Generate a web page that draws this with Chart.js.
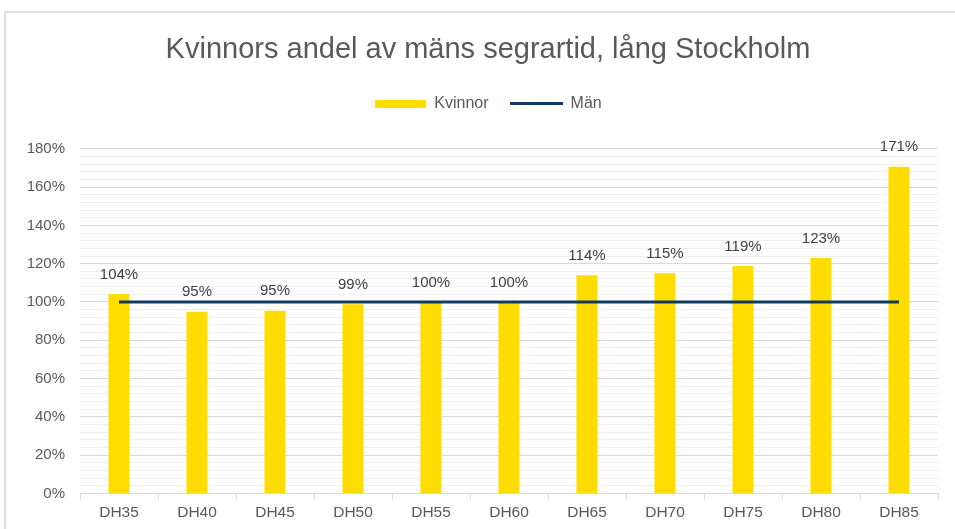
<!DOCTYPE html>
<html>
<head>
<meta charset="utf-8">
<script src="https://cdn.jsdelivr.net/npm/chart.js@4/dist/chart.umd.min.js"></script>
</head>
<body style="margin:0; background:#fff; overflow:hidden">
    <div id="frame" style="position:absolute; left:4px; top:11px; width:960px; height:530px; border:2px solid #dedede; pointer-events:none; z-index:2"></div>
    <div style="position:absolute; left:0; top:0; width:955px; height:529px">
        <canvas id="chart" width="955" height="529"></canvas>
    </div>

<script>
    // chart data
    var categories = ['DH35', 'DH40', 'DH45', 'DH50', 'DH55', 'DH60', 'DH65', 'DH70', 'DH75', 'DH80', 'DH85'];
    var kvinnor = [104.2, 94.9, 95.4, 98.8, 99.6, 99.6, 114.0, 115.0, 118.8, 122.9, 170.6];
    var man = [100, 100, 100, 100, 100, 100, 100, 100, 100, 100, 100];

    var yellow = '#ffdd00';
    var navy = '#0e3a64';
    var textGrey = '#595959';
    var fontFamily = '"Liberation Sans", Arial, sans-serif';

    // legend swatches
    function swatch(w, h, color) {
        var c = document.createElement('canvas');
        c.width = w; c.height = h;
        var cx = c.getContext('2d');
        cx.fillStyle = color;
        cx.fillRect(0, 0, w, h);
        return c;
    }
    var barSwatch = swatch(51, 8, yellow);
    var lineSwatch = swatch(53, 3, navy);

    /*
     * value labels above the bars
     */
    var barLabels = {
        id: 'barLabels',
        afterDatasetsDraw(chart) {
            var meta = chart.getDatasetMeta(0);
            var ctx = chart.ctx;
            ctx.save();
            ctx.font = '15px ' + fontFamily;
            ctx.fillStyle = '#404040';
            ctx.textAlign = 'center';
            ctx.textBaseline = 'bottom';
            meta.data.forEach(function (bar, i) {
                ctx.fillText(Math.round(kvinnor[i]) + '%', bar.x, bar.y - 12);
            });
            ctx.restore();
        }
    };

    new Chart(document.getElementById('chart'), {
        data: {
            labels: categories,
            datasets: [
                {
                    type: 'bar',
                    label: 'Kvinnor',
                    data: kvinnor,
                    backgroundColor: yellow,
                    categoryPercentage: 0.3,
                    barPercentage: 0.9,
                    order: 1
                },
                {
                    type: 'line',
                    label: 'Män',
                    data: man,
                    borderColor: navy,
                    backgroundColor: navy,
                    borderWidth: 3,
                    pointRadius: 0,
                    fill: false,
                    tension: 0,
                    order: 0
                }
            ]
        },
        options: {
            responsive: false,
            animation: false,
            layout: {
                padding: { left: 25, right: 4, top: 0, bottom: 3 }
            },
            plugins: {
                title: {
                    display: true,
                    text: 'Kvinnors andel av mäns segrartid, lång Stockholm',
                    color: textGrey,
                    font: { family: fontFamily, size: 29, weight: 'normal' },
                    padding: { top: 33, bottom: 6 }
                },
                // empty spacer between legend and plot
                subtitle: {
                    display: true,
                    text: '',
                    weight: 500,
                    font: { size: 10 },
                    padding: { top: 0, bottom: 15 }
                },
                legend: {
                    display: true,
                    labels: {
                        usePointStyle: true,
                        pointStyleWidth: 52,
                        color: textGrey,
                        font: { family: fontFamily, size: 16 },
                        padding: 22,
                        sort: function (a, b) { return a.datasetIndex - b.datasetIndex; },
                        generateLabels: function (chart) {
                            return [
                                { text: 'Kvinnor', pointStyle: barSwatch, fillStyle: yellow, strokeStyle: yellow, lineWidth: 0, datasetIndex: 0, fontColor: textGrey },
                                { text: 'Män', pointStyle: lineSwatch, fillStyle: navy, strokeStyle: navy, lineWidth: 0, datasetIndex: 1, fontColor: textGrey }
                            ];
                        }
                    }
                },
                tooltip: { enabled: false }
            },
            scales: {
                x: {
                    grid: {
                        offset: true,
                        drawOnChartArea: false,
                        drawTicks: true,
                        tickLength: 6,
                        color: '#d9d9d9'
                    },
                    border: { color: '#d9d9d9', width: 1 },
                    ticks: {
                        color: textGrey,
                        font: { family: fontFamily, size: 15.5 },
                        padding: 4,
                        maxRotation: 0
                    }
                },
                y: {
                    min: 0,
                    max: 180,
                    afterFit: function (scale) { scale.width = 55; },
                    border: { display: false },
                    grid: {
                        drawTicks: false,
                        color: function (c) {
                            if (!c.tick) return '#efefef';
                            return Math.round(c.tick.value) % 20 === 0 ? '#d9d9d9' : '#efefef';
                        }
                    },
                    ticks: {
                        stepSize: 4,
                        autoSkip: false,
                        padding: 15,
                        color: textGrey,
                        font: { family: fontFamily, size: 15 },
                        callback: function (v) {
                            return Math.round(v) % 20 === 0 ? Math.round(v) + '%' : '';
                        }
                    }
                },
                // empty right-hand margin so the plot ends where the original does
                gap: {
                    type: 'linear',
                    position: 'right',
                    display: true,
                    afterFit: function (scale) { scale.width = 13; },
                    border: { display: false },
                    grid: { display: false },
                    ticks: { display: false }
                }
            }
        },
        plugins: [barLabels]
    });
</script>
</body>
</html>
